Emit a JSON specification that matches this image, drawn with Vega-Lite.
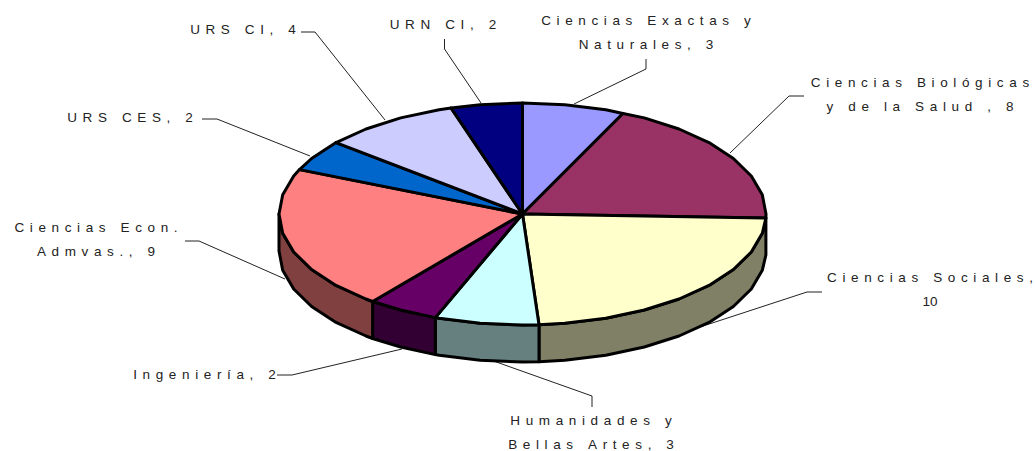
{
"$schema":"https://vega.github.io/schema/vega-lite/v6.json",
"width":1036,"height":451,"padding":0,
"autosize":"none",
"background":"white",
"view":{"stroke":null},
"projection":{"type":"identity"},
"datasets":{
"frame":[{"type":"Feature","properties":{"slice":"frame"},"geometry":{"type":"Polygon","coordinates":[[[0,0],[1036,0],[1036,451],[0,451],[0,0]]]}}],
"leaders":[
{"type":"Feature","properties":{"slice":"URS CI"},"geometry":{"type":"LineString","coordinates":[[301,32],[315,32],[385,120]]}},
{"type":"Feature","properties":{"slice":"URN CI"},"geometry":{"type":"LineString","coordinates":[[444.5,39],[444.5,49],[481,103]]}},
{"type":"Feature","properties":{"slice":"URS CES"},"geometry":{"type":"LineString","coordinates":[[202,119],[217,119],[310,156]]}},
{"type":"Feature","properties":{"slice":"Ciencias Exactas y Naturales"},"geometry":{"type":"LineString","coordinates":[[646,59],[646,69],[574,104]]}},
{"type":"Feature","properties":{"slice":"Ciencias Biológicas y de la Salud"},"geometry":{"type":"LineString","coordinates":[[804,96],[789,96],[730,153]]}},
{"type":"Feature","properties":{"slice":"Ciencias Econ. Admvas."},"geometry":{"type":"LineString","coordinates":[[185,241],[199,241],[285,279]]}},
{"type":"Feature","properties":{"slice":"Ingeniería"},"geometry":{"type":"LineString","coordinates":[[277,375],[292,375],[402,349]]}},
{"type":"Feature","properties":{"slice":"Ciencias Sociales"},"geometry":{"type":"LineString","coordinates":[[822,292],[807,292],[700,327]]}},
{"type":"Feature","properties":{"slice":"Humanidades y Bellas Artes"},"geometry":{"type":"LineString","coordinates":[[592,407],[592,396],[493.5,361]]}}
],
"sides":[
{"type":"Feature","properties":{"slice":"Ciencias Sociales"},"geometry":{"type":"Polygon","coordinates":[[[765.9,218],[762.3,233.3],[751.3,252],[733.4,269.5],[709,285.4],[679,299],[644.3,310],[605.8,318.3],[564.8,323.3],[539,324.7],[539,361.7],[564.8,360.3],[605.8,355.3],[644.3,347],[679,336],[709,322.4],[733.4,306.5],[751.3,289],[762.3,270.3],[765.9,255],[765.9,218]]]}},
{"type":"Feature","properties":{"slice":"Humanidades y Bellas Artes"},"geometry":{"type":"Polygon","coordinates":[[[539,324.7],[522.5,325],[480.2,323.3],[439.2,318.3],[435.3,317.6],[435.3,354.6],[439.2,355.3],[480.2,360.3],[522.5,362],[539,361.7],[539,324.7]]]}},
{"type":"Feature","properties":{"slice":"Ingeniería"},"geometry":{"type":"Polygon","coordinates":[[[435.3,317.6],[400.7,310],[372.6,301.5],[372.6,338.5],[400.7,347],[435.3,354.6],[435.3,317.6]]]}},
{"type":"Feature","properties":{"slice":"Ciencias Econ. Admvas."},"geometry":{"type":"Polygon","coordinates":[[[372.6,301.5],[366,299],[336,285.4],[311.6,269.5],[293.7,252],[282.7,233.3],[279,214],[279,251],[282.7,270.3],[293.7,289],[311.6,306.5],[336,322.4],[366,336],[372.6,338.5],[372.6,301.5]]]}}
],
"tops":[
{"type":"Feature","properties":{"slice":"Ciencias Exactas y Naturales","value":3},"geometry":{"type":"Polygon","coordinates":[[[522.5,214],[522.5,103],[564.8,104.7],[605.8,109.7],[623,113.5],[522.5,214]]]}},
{"type":"Feature","properties":{"slice":"Ciencias Biológicas y de la Salud","value":8},"geometry":{"type":"Polygon","coordinates":[[[522.5,214],[623,113.5],[644.3,117.9],[679,129],[709,142.6],[733.4,158.5],[751.3,176],[762.3,194.7],[766,214],[765.9,218],[522.5,214]]]}},
{"type":"Feature","properties":{"slice":"Ciencias Sociales","value":10},"geometry":{"type":"Polygon","coordinates":[[[522.5,214],[765.9,218],[762.3,233.3],[751.3,252],[733.4,269.5],[709,285.4],[679,299],[644.3,310],[605.8,318.3],[564.8,323.3],[539,324.7],[522.5,214]]]}},
{"type":"Feature","properties":{"slice":"Humanidades y Bellas Artes","value":3},"geometry":{"type":"Polygon","coordinates":[[[522.5,214],[539,324.7],[522.5,325],[480.2,323.3],[439.2,318.3],[435.3,317.6],[522.5,214]]]}},
{"type":"Feature","properties":{"slice":"Ingeniería","value":2},"geometry":{"type":"Polygon","coordinates":[[[522.5,214],[435.3,317.6],[400.7,310],[372.6,301.5],[522.5,214]]]}},
{"type":"Feature","properties":{"slice":"Ciencias Econ. Admvas.","value":9},"geometry":{"type":"Polygon","coordinates":[[[522.5,214],[372.6,301.5],[366,299],[336,285.4],[311.6,269.5],[293.7,252],[282.7,233.3],[279,214],[282.7,194.7],[293.7,176],[299.5,169.6],[522.5,214]]]}},
{"type":"Feature","properties":{"slice":"URS CES","value":2},"geometry":{"type":"Polygon","coordinates":[[[522.5,214],[299.5,169.6],[311.6,158.5],[336,142.6],[522.5,214]]]}},
{"type":"Feature","properties":{"slice":"URS CI","value":4},"geometry":{"type":"Polygon","coordinates":[[[522.5,214],[336,142.6],[366,129],[400.7,117.9],[439.2,109.7],[451,107.9],[522.5,214]]]}},
{"type":"Feature","properties":{"slice":"URN CI","value":2},"geometry":{"type":"Polygon","coordinates":[[[522.5,214],[451,107.9],[480.2,104.7],[522.5,103],[522.5,214]]]}}
],
"labels":[
{"label":"Ciencias Exactas y\nNaturales, 3","lon":646,"lat":21},
{"label":"Ciencias Biológicas\ny de la Salud , 8","lon":920,"lat":83},
{"label":"Ciencias Sociales,\n10","lon":930,"lat":278},
{"label":"Humanidades y\nBellas Artes, 3","lon":591,"lat":421},
{"label":"Ingeniería, 2","lon":204.5,"lat":375},
{"label":"Ciencias Econ.\nAdmvas., 9","lon":96,"lat":228},
{"label":"URS CES, 2","lon":130,"lat":118},
{"label":"URS CI, 4","lon":243,"lat":30},
{"label":"URN CI, 2","lon":443,"lat":25}
]
},
"layer":[
{"data":{"name":"frame"},"mark":{"type":"geoshape","fill":null,"stroke":null,"opacity":0},"encoding":{}},
{"data":{"name":"leaders"},"mark":{"type":"geoshape","filled":false,"fill":null,"stroke":"#222222","strokeWidth":1},"encoding":{}},
{"data":{"name":"sides"},"mark":{"type":"geoshape","stroke":"#000000","strokeWidth":3,"strokeJoin":"round"},
"encoding":{"color":{"field":"properties.slice","type":"nominal","legend":null,"scale":{"domain":["Ciencias Sociales","Humanidades y Bellas Artes","Ingeniería","Ciencias Econ. Admvas."],"range":["#808066","#668080","#330033","#804040"]}}}},
{"data":{"name":"tops"},"mark":{"type":"geoshape","stroke":"#000000","strokeWidth":3,"strokeJoin":"round"},
"encoding":{"color":{"field":"properties.slice","type":"nominal","legend":null,"scale":{"domain":["Ciencias Exactas y Naturales","Ciencias Biológicas y de la Salud","Ciencias Sociales","Humanidades y Bellas Artes","Ingeniería","Ciencias Econ. Admvas.","URS CES","URS CI","URN CI"],"range":["#9999FF","#993366","#FFFFCC","#CCFFFF","#660066","#FF8080","#0066CC","#CCCCFF","#000080"]}}}},
{"data":{"name":"labels"},
"transform":[{"calculate":"replace(datum.label, regexp('([^\\\\d\\\\n])(?=.)','g'), '$1\u2005\u2006')","as":"spaced"}],
"mark":{"type":"text","font":"Liberation Sans","fontSize":13.5,"lineBreak":"\n","lineHeight":24,"align":"center","baseline":"middle","color":"#222222"},
"encoding":{"longitude":{"field":"lon","type":"quantitative"},"latitude":{"field":"lat","type":"quantitative"},"text":{"field":"spaced","type":"nominal"}}}
],
"resolve":{"scale":{"color":"independent"}}
}
